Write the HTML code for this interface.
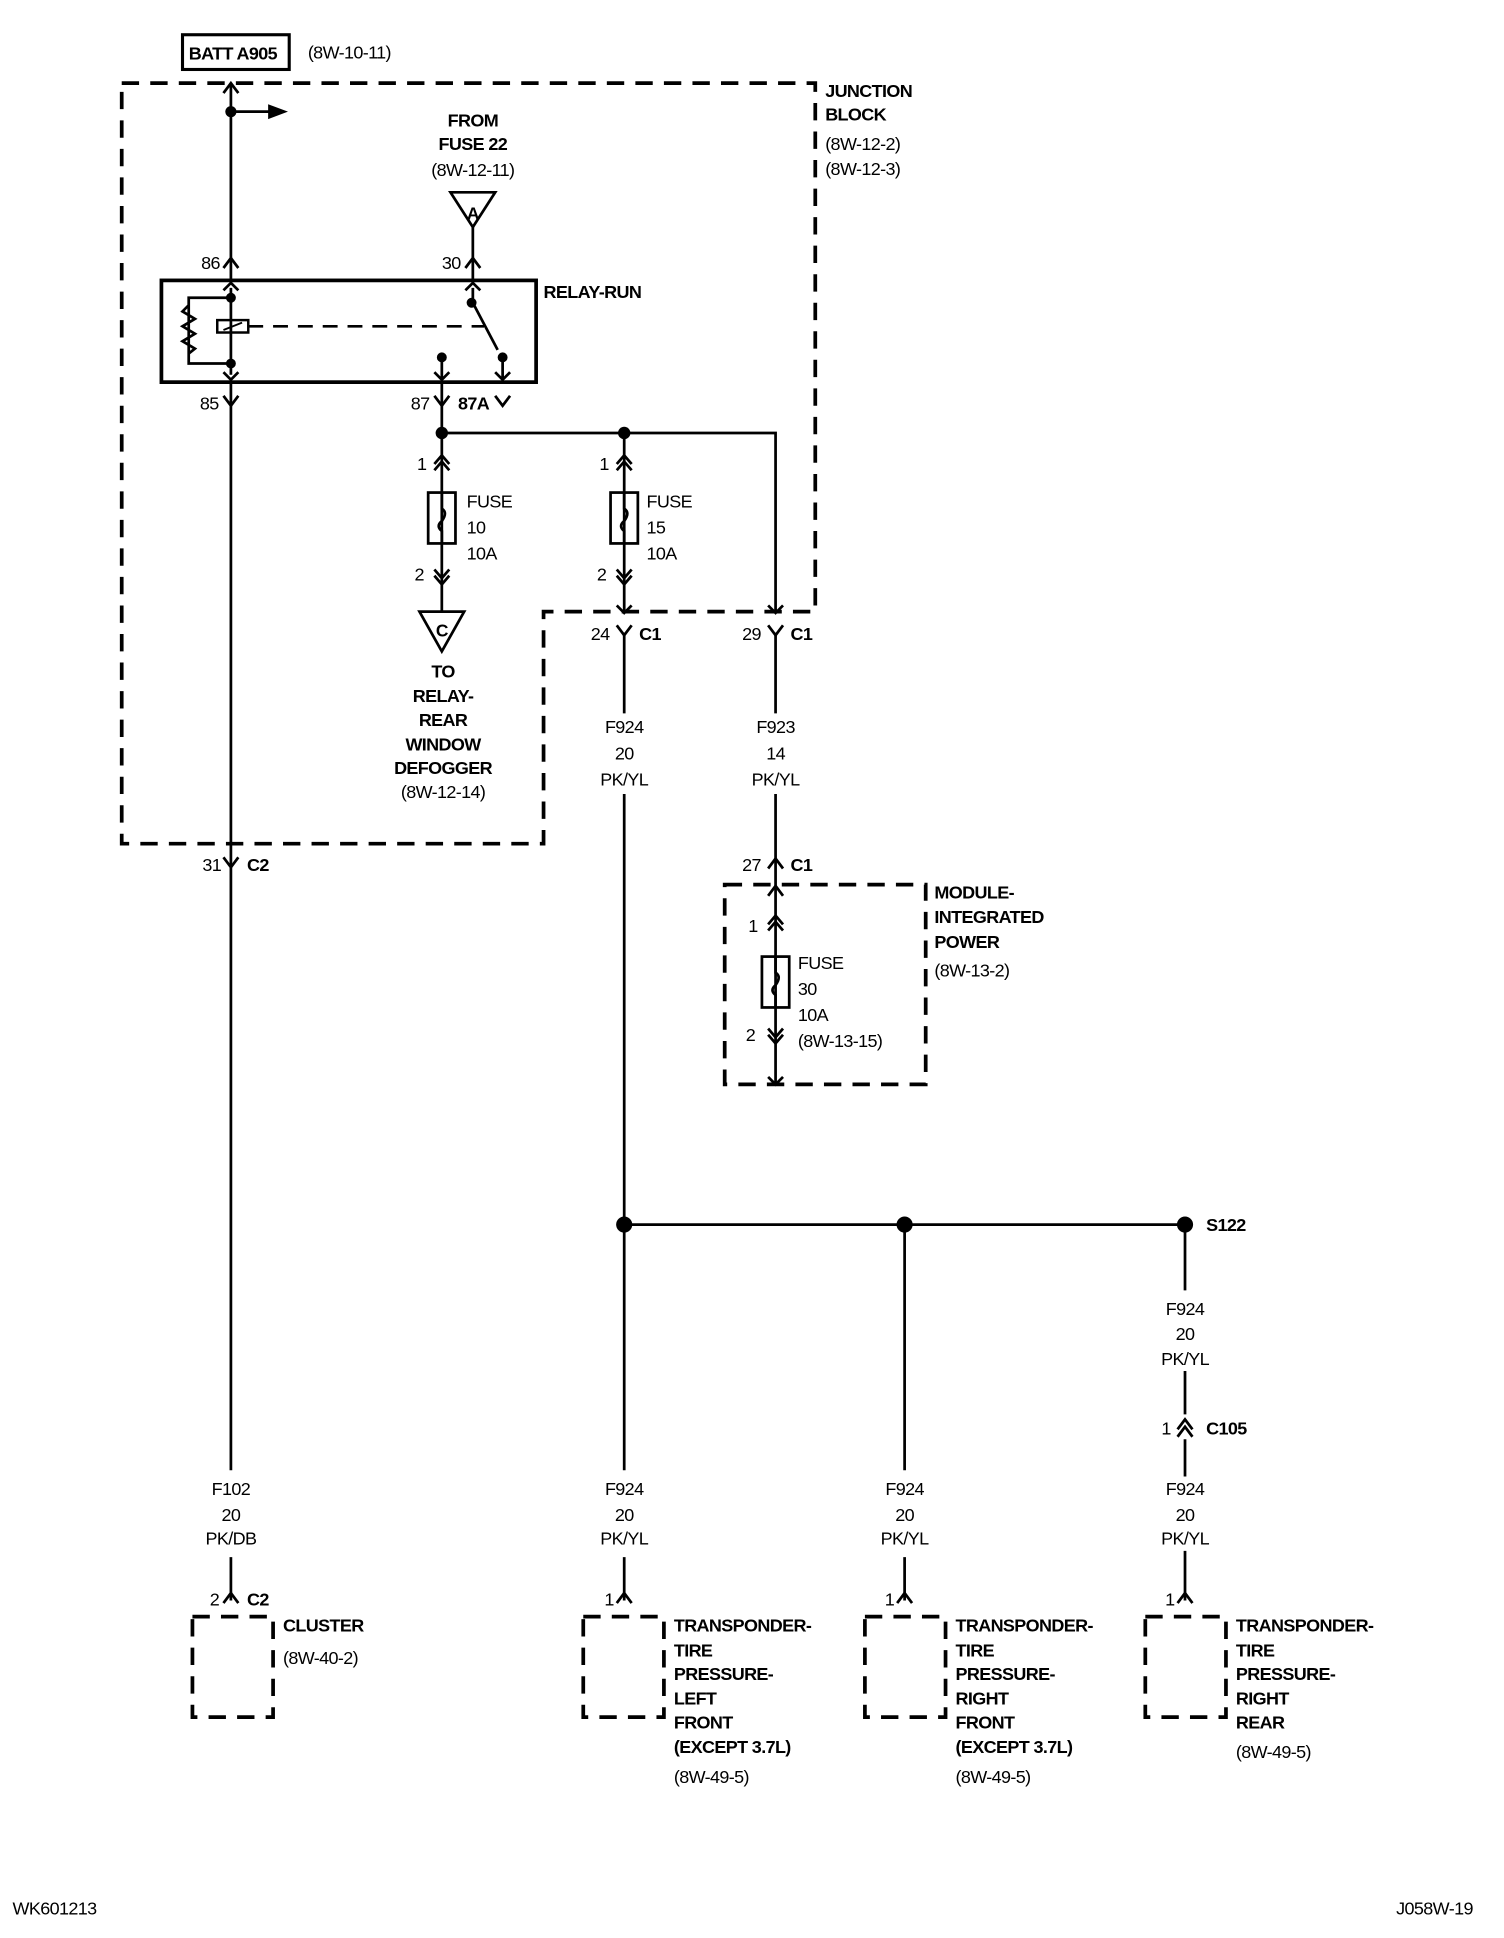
<!DOCTYPE html>
<html><head><meta charset="utf-8"><style>
html,body{margin:0;padding:0;background:#fff;}
svg{display:block;}
text{font-family:"Liberation Sans Narrow","Liberation Sans",sans-serif;font-size:14.5px;letter-spacing:-0.5px;fill:#000;}
.b{font-weight:bold;}
.c{text-anchor:middle;}
</style></head><body>
<svg width="1504" height="1938" viewBox="0 0 1212 1562" xmlns="http://www.w3.org/2000/svg">
<g fill="none" stroke="#000" stroke-width="2.2">
<path d="M98 67 H657 V493 H438 V680 H98 Z" stroke-width="3" stroke-dasharray="14 9"/>
<rect x="584" y="713" width="162" height="161" stroke-width="3" stroke-dasharray="14 9"/>
<rect x="155" y="1303" width="65" height="81" stroke-width="3" stroke-dasharray="14 9"/>
<rect x="470" y="1303" width="65" height="81" stroke-width="3" stroke-dasharray="14 9"/>
<rect x="697" y="1303" width="65" height="81" stroke-width="3" stroke-dasharray="14 9"/>
<rect x="923" y="1303" width="65" height="81" stroke-width="3" stroke-dasharray="14 9"/>
<rect x="147" y="28" width="86" height="28" stroke-width="2.5"/>
<rect x="130" y="226" width="302" height="82" stroke-width="3"/>
<path d="M186 67 V226 M186 308 V1185 M186 1255 V1290"/>
<path d="M186 90 H218"/>
<path d="M381 183 V226"/>
<path d="M356 308 V493 M356 349 H625 V493 M503 349 V493 M503 510 V575 M503 640 V1185 M503 1255 V1290 M625 510 V575 M625 640 V874"/>
<path d="M503 987 H955 M729 987 V1185 M729 1255 V1290 M955 987 V1040 M955 1105 V1140 M955 1160 V1190 M955 1250 V1290"/>
<path d="M180 216 L186 208 L192 216 M180 75 L186 67 L192 75 M375 216 L381 208 L387 216 M180 319 L186 327 L192 319 M350 319 L356 327 L362 319 M399 319 L405 327 L411 319 M180 691 L186 699 L192 691 M497 504 L503 512 L509 504 M619 504 L625 512 L631 504 M619 700 L625 692 L631 700 M619 722 L625 714 L631 722 M619 868 L625 874 L631 868 M497 488 L503 494 L509 488 M619 488 L625 494 L631 488 M180 1292 L186 1284 L192 1292 M497 1292 L503 1284 L509 1292 M723 1292 L729 1284 L735 1292 M949 1292 L955 1284 L961 1292 M949 1152 L955 1144 L961 1152 M949 1158 L955 1150 L961 1158"/>
<path d="M350 374 L356 367 L362 374 M350 379 L356 372 L362 379 M350 459 L356 466 L362 459 M350 464 L356 471 L362 464
M497 374 L503 367 L509 374 M497 379 L503 372 L509 379 M497 459 L503 466 L509 459 M497 464 L503 471 L509 464
M619 745 L625 738 L631 745 M619 750 L625 743 L631 750 M619 829 L625 836 L631 829 M619 834 L625 841 L631 834"/>
<rect x="345" y="397" width="22" height="41"/>
<rect x="492" y="397" width="22" height="41"/>
<rect x="614" y="771" width="22" height="41"/>
<path d="M356 397 V410 q5 3 0 10 q-5 4 0 8 V438 M503 397 V410 q5 3 0 10 q-5 4 0 8 V438 M625 771 V784 q5 3 0 10 q-5 4 0 8 V812"/>
<path d="M363 155 H399 L381 183 Z M338 493 H374 L356 525 Z"/>
<path d="M186 232 V302 M180 234 L186 228 L192 234 M180 300 L186 306 L192 300"/>
<path d="M186 240 H152 V293 H186 M152 246 l-5 5 l10 6 l-10 6 l10 6 l-10 6 l10 6 l-5 4"/>
<rect x="175" y="258" width="25" height="10" stroke-width="2"/>
<path d="M180 266 L195 260" stroke-width="1.5"/>
<path d="M200 263 H390" stroke-dasharray="12 8"/>
<path d="M381 232 V244 L401 282 M375 234 L381 228 L387 234 M356 288 V306 M350 300 L356 306 L362 300 M405 288 V306 M399 300 L405 306 L411 300"/>
</g>
<path d="M216 84 L232 90 L216 96 Z" fill="#000"/>
<g fill="#000">
<circle cx="186" cy="90" r="4.5"/><circle cx="186" cy="240" r="4"/><circle cx="186" cy="293" r="4"/>
<circle cx="380" cy="244" r="4"/><circle cx="356" cy="288" r="4"/><circle cx="405" cy="288" r="4"/>
<circle cx="356" cy="349" r="5"/><circle cx="503" cy="349" r="5"/>
<circle cx="503" cy="987" r="6.5"/><circle cx="729" cy="987" r="6.5"/><circle cx="955" cy="987" r="6.5"/>
</g>
<text x="152" y="48" class="b">BATT A905</text>
<text x="248" y="47">(8W-10-11)</text>
<text x="665" y="78" class="b">JUNCTION</text><text x="665" y="97" class="b">BLOCK</text>
<text x="665" y="121">(8W-12-2)</text><text x="665" y="141">(8W-12-3)</text>
<text x="381" y="102" class="b c">FROM</text><text x="381" y="121" class="b c">FUSE 22</text><text x="381" y="142" class="c">(8W-12-11)</text>
<text x="381" y="177" class="c b" style="font-size:14px">A</text>
<text x="356" y="513" class="c b" style="font-size:14px">C</text>
<text x="162" y="217">86</text><text x="356" y="217">30</text>
<text x="438" y="240" class="b">RELAY-RUN</text>
<text x="161" y="330">85</text><text x="331" y="330">87</text><text x="369" y="330" class="b">87A</text>
<text x="336" y="379">1</text><text x="334" y="468">2</text>
<text x="483" y="379">1</text><text x="481" y="468">2</text>
<text x="376" y="409">FUSE</text><text x="376" y="430">10</text><text x="376" y="451">10A</text>
<text x="521" y="409">FUSE</text><text x="521" y="430">15</text><text x="521" y="451">10A</text>
<text x="357" y="546" class="b c">TO</text><text x="357" y="566" class="b c">RELAY-</text><text x="357" y="585" class="b c">REAR</text><text x="357" y="605" class="b c">WINDOW</text><text x="357" y="624" class="b c">DEFOGGER</text><text x="357" y="643" class="c">(8W-12-14)</text>
<text x="476" y="516">24</text><text x="515" y="516" class="b">C1</text>
<text x="598" y="516">29</text><text x="637" y="516" class="b">C1</text>
<text x="503" y="591" class="c">F924</text><text x="503" y="612" class="c">20</text><text x="503" y="633" class="c">PK/YL</text>
<text x="625" y="591" class="c">F923</text><text x="625" y="612" class="c">14</text><text x="625" y="633" class="c">PK/YL</text>
<text x="598" y="702">27</text><text x="637" y="702" class="b">C1</text>
<text x="163" y="702">31</text><text x="199" y="702" class="b">C2</text>
<text x="753" y="724" class="b">MODULE-</text><text x="753" y="744" class="b">INTEGRATED</text><text x="753" y="764" class="b">POWER</text><text x="753" y="787">(8W-13-2)</text>
<text x="603" y="751">1</text><text x="601" y="839">2</text>
<text x="643" y="781">FUSE</text><text x="643" y="802">30</text><text x="643" y="823">10A</text><text x="643" y="844">(8W-13-15)</text>
<text x="972" y="992" class="b">S122</text>
<text x="955" y="1060" class="c">F924</text><text x="955" y="1080" class="c">20</text><text x="955" y="1100" class="c">PK/YL</text>
<text x="936" y="1156">1</text><text x="972" y="1156" class="b">C105</text>
<text x="955" y="1205" class="c">F924</text><text x="955" y="1226" class="c">20</text><text x="955" y="1245" class="c">PK/YL</text>
<text x="186" y="1205" class="c">F102</text><text x="186" y="1226" class="c">20</text><text x="186" y="1245" class="c">PK/DB</text>
<text x="503" y="1205" class="c">F924</text><text x="503" y="1226" class="c">20</text><text x="503" y="1245" class="c">PK/YL</text>
<text x="729" y="1205" class="c">F924</text><text x="729" y="1226" class="c">20</text><text x="729" y="1245" class="c">PK/YL</text>
<text x="169" y="1294">2</text><text x="199" y="1294" class="b">C2</text>
<text x="487" y="1294">1</text><text x="713" y="1294">1</text><text x="939" y="1294">1</text>
<text x="228" y="1315" class="b">CLUSTER</text><text x="228" y="1341">(8W-40-2)</text>
<text x="543" y="1315" class="b">TRANSPONDER-</text><text x="543" y="1335" class="b">TIRE</text><text x="543" y="1354" class="b">PRESSURE-</text><text x="543" y="1374" class="b">LEFT</text><text x="543" y="1393" class="b">FRONT</text><text x="543" y="1413" class="b">(EXCEPT 3.7L)</text>
<text x="770" y="1315" class="b">TRANSPONDER-</text><text x="770" y="1335" class="b">TIRE</text><text x="770" y="1354" class="b">PRESSURE-</text><text x="770" y="1374" class="b">RIGHT</text><text x="770" y="1393" class="b">FRONT</text><text x="770" y="1413" class="b">(EXCEPT 3.7L)</text>
<text x="996" y="1315" class="b">TRANSPONDER-</text><text x="996" y="1335" class="b">TIRE</text><text x="996" y="1354" class="b">PRESSURE-</text><text x="996" y="1374" class="b">RIGHT</text><text x="996" y="1393" class="b">REAR</text>
<text x="543" y="1437">(8W-49-5)</text><text x="770" y="1437">(8W-49-5)</text><text x="996" y="1417">(8W-49-5)</text>
<text x="10" y="1543">WK601213</text>
<text x="1187" y="1543" style="text-anchor:end">J058W-19</text>
</svg>
</body></html>
